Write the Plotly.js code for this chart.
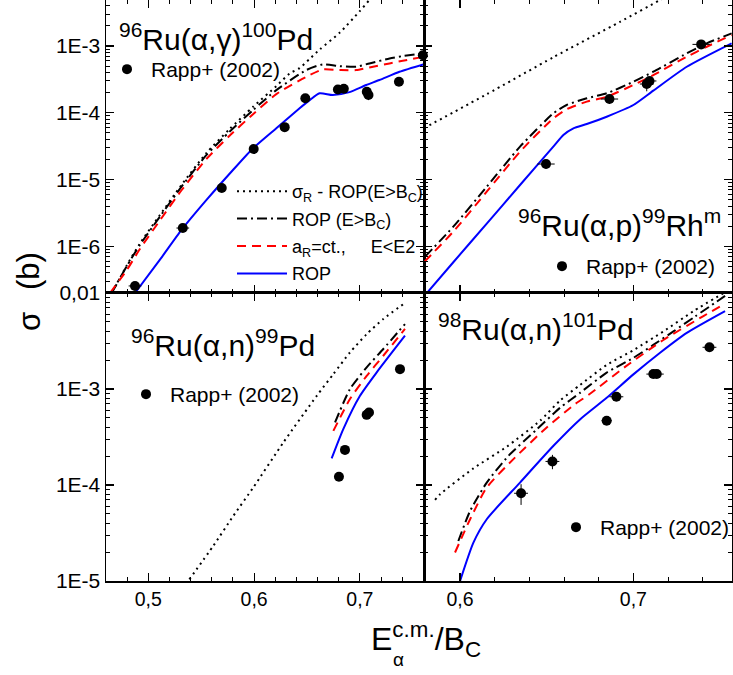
<!DOCTYPE html>
<html>
<head>
<meta charset="utf-8">
<script src="https://cdn.plot.ly/plotly-3.0.1.min.js"></script>
<style>html,body{margin:0;padding:0;background:#fff}#chart{width:733px;height:675px}</style>
</head>
<body>
<div id="chart"></div>
<script>
// ---------- Panel TL: 96Ru(a,g)100Pd ----------
const tlDotX = [0.4654, 0.4795, 0.492, 0.511, 0.5314, 0.555, 0.577, 0.599, 0.621, 0.6336, 0.643, 0.652, 0.662, 0.6808, 0.6997, 0.709, 0.72];
const tlDotY = [2.0e-7, 5.13e-7, 1.10e-6, 2.95e-6, 8.32e-6, 2.51e-5, 5.75e-5, 1.23e-4, 2.51e-4, 3.89e-4, 4.68e-4, 6.31e-4, 8.91e-4, 1.58e-3, 3.31e-3, 4.90e-3, 7.41e-3];
const tlDashDotX = [0.4654, 0.4795, 0.492, 0.511, 0.5314, 0.555, 0.577, 0.599, 0.621, 0.6494, 0.665, 0.6808, 0.6965, 0.709, 0.728, 0.7405, 0.7606];
const tlDashDotY = [2.0e-7, 5.0e-7, 1.05e-6, 2.79e-6, 7.83e-6, 2.34e-5, 5.25e-5, 1.10e-4, 2.19e-4, 4.38e-4, 5.32e-4, 5.01e-4, 4.90e-4, 5.50e-4, 6.53e-4, 7.08e-4, 7.76e-4];
const tlDashX = [0.4638, 0.4795, 0.492, 0.511, 0.5314, 0.555, 0.577, 0.599, 0.621, 0.6494, 0.665, 0.6808, 0.6965, 0.709, 0.728, 0.7405, 0.7606];
const tlDashY = [2.0e-7, 4.37e-7, 9.12e-7, 2.45e-6, 6.92e-6, 2.04e-5, 4.57e-5, 9.55e-5, 1.91e-4, 3.47e-4, 4.47e-4, 4.37e-4, 4.37e-4, 4.79e-4, 5.50e-4, 6.03e-4, 6.92e-4];
const tlSolidX = [0.4874, 0.511, 0.5314, 0.555, 0.580, 0.599, 0.621, 0.643, 0.6525, 0.6619, 0.6744, 0.6902, 0.706, 0.7185, 0.7374, 0.7606];
const tlSolidY = [2.0e-7, 6.31e-7, 1.76e-6, 4.95e-6, 1.39e-5, 2.95e-5, 5.89e-5, 1.17e-4, 1.55e-4, 1.96e-4, 1.85e-4, 2.04e-4, 2.61e-4, 3.10e-4, 4.13e-4, 5.37e-4];
const tlExpX = [0.4874, 0.5326, 0.5694, 0.5996, 0.6289, 0.6484, 0.6792, 0.6848, 0.7065, 0.7081, 0.7369, 0.7595];
const tlExpY = [2.55e-7, 1.88e-6, 7.5e-6, 2.87e-5, 6.1e-5, 1.65e-4, 2.24e-4, 2.30e-4, 2.07e-4, 1.85e-4, 2.92e-4, 7.3e-4];
const tlExpErrX = [0.006, 0.006, 0.003, 0.003, 0.003, 0.003, 0.003, 0.003, 0.003, 0.003, 0.003, 0.003];
const tlExpErrY = [3e-8, 2e-7, 6e-7, 2e-6, 5e-6, 1.2e-5, 1.5e-5, 1.5e-5, 2e-5, 3e-5, 2e-5, 5e-5];

// ---------- Panel TR: 96Ru(a,p)99Rh^m ----------
const trDotX = [0.5792, 0.6154, 0.6538, 0.6923, 0.7154, 0.73];
const trDotY = [5.9e-5, 1.90e-4, 6.80e-4, 2.31e-3, 4.90e-3, 7.94e-3];
const trDashDotX = [0.5798, 0.5961, 0.6154, 0.6346, 0.6538, 0.6615, 0.6731, 0.6846, 0.7, 0.7115, 0.7308, 0.7423, 0.7567];
const trDashDotY = [7.01e-7, 1.97e-6, 7.83e-6, 3.11e-5, 9.82e-5, 1.31e-4, 1.65e-4, 1.96e-4, 2.92e-4, 4.13e-4, 7.78e-4, 1.10e-3, 1.55e-3];
const trDashX = [0.5795, 0.5961, 0.6154, 0.6346, 0.6538, 0.6615, 0.6731, 0.6846, 0.7, 0.7115, 0.7308, 0.7423, 0.7567];
const trDashY = [5.90e-7, 1.66e-6, 6.59e-6, 2.62e-5, 8.26e-5, 1.13e-4, 1.47e-4, 1.74e-4, 2.61e-4, 3.68e-4, 6.92e-4, 9.77e-4, 1.46e-3];
const trSolidX = [0.5808, 0.5961, 0.6154, 0.6346, 0.6538, 0.6596, 0.6654, 0.6731, 0.6846, 0.7, 0.7115, 0.7308, 0.7567];
const trSolidY = [1.99e-7, 5.78e-7, 2.19e-6, 8.30e-6, 3.11e-5, 4.66e-5, 5.86e-5, 6.79e-5, 8.75e-5, 1.31e-4, 2.15e-4, 4.90e-4, 1.10e-3];
const trExpX = [0.6496, 0.6862, 0.7077, 0.7093, 0.7391];
const trExpY = [1.71e-5, 1.61e-4, 2.7e-4, 3.0e-4, 1.06e-3];
const trExpErrX = [0.005, 0.005, 0.004, 0.004, 0.005];
const trExpErrY = [2.5e-6, 2.5e-5, 6e-5, 4e-5, 1e-4];

// ---------- Panel BL: 96Ru(a,n)99Pd ----------
const blDotX = [0.5388, 0.5614, 0.5803, 0.5992, 0.6276, 0.6592, 0.6749, 0.6906, 0.7064, 0.7221, 0.7426];
const blDotY = [1.04e-5, 2.32e-5, 4.76e-5, 9.42e-5, 2.77e-4, 8.49e-4, 1.43e-3, 2.40e-3, 3.73e-3, 5.36e-3, 7.87e-3];
const blDashDotX = [0.6765, 0.6906, 0.7064, 0.7221, 0.7426];
const blDashDotY = [4.48e-4, 9.98e-4, 1.68e-3, 2.61e-3, 4.75e-3];
const blDashX = [0.6749, 0.6906, 0.7064, 0.7221, 0.7426];
const blDashY = [3.66e-4, 7.85e-4, 1.37e-3, 2.22e-3, 4.22e-3];
const blSolidX = [0.6733, 0.6843, 0.7001, 0.7159, 0.7426];
const blSolidY = [1.89e-4, 3.82e-4, 8.49e-4, 1.49e-3, 3.59e-3];
const blExpX = [0.6802, 0.6859, 0.7064, 0.7086, 0.7379];
const blExpY = [1.22e-4, 2.32e-4, 5.38e-4, 5.7e-4, 1.61e-3];

// ---------- Panel BR: 98Ru(a,n)101Pd ----------
const brDotX = [0.5856, 0.5885, 0.6077, 0.627, 0.6462, 0.6577, 0.6692, 0.6846, 0.7, 0.7173, 0.7346, 0.7529];
const brDotY = [7.0e-5, 8.02e-5, 1.49e-4, 2.51e-4, 4.68e-4, 7.59e-4, 1.10e-3, 1.78e-3, 2.54e-3, 3.98e-3, 6.46e-3, 1.02e-2];
const brDashDotX = [0.599, 0.6058, 0.6154, 0.6279, 0.6443, 0.6577, 0.6692, 0.6846, 0.7, 0.7115, 0.7231, 0.7356, 0.7481, 0.7529];
const brDashDotY = [2.61e-5, 5.37e-5, 1.06e-4, 2.01e-4, 3.80e-4, 6.37e-4, 9.12e-4, 1.48e-3, 2.11e-3, 2.88e-3, 3.98e-3, 5.69e-3, 8.13e-3, 9.33e-3];
const brDashX = [0.5971, 0.6058, 0.6154, 0.6308, 0.65, 0.6654, 0.675, 0.6952, 0.7173, 0.7404, 0.7529];
const brDashY = [1.98e-5, 4.40e-5, 9.42e-5, 1.86e-4, 3.98e-4, 6.76e-4, 8.91e-4, 1.70e-3, 3.24e-3, 5.75e-3, 7.76e-3];
const brSolidX = [0.6, 0.6077, 0.6154, 0.6346, 0.6539, 0.6692, 0.6846, 0.7, 0.7154, 0.7308, 0.7529];
const brSolidY = [1.0e-5, 2.51e-5, 4.40e-5, 1.06e-4, 2.56e-4, 4.82e-4, 8.09e-4, 1.42e-3, 2.39e-3, 3.85e-3, 6.49e-3];
const brExpX = [0.6352, 0.6533, 0.6846, 0.6902, 0.7115, 0.7135, 0.7439];
const brExpY = [8.2e-5, 1.76e-4, 4.67e-4, 8.3e-4, 1.43e-3, 1.43e-3, 2.72e-3];
const brExpErrX = [0.004, 0.004, 0.003, 0.004, 0.004, 0.004, 0.004];
const brExpErrY = [2.0e-5, 3e-5, 3e-5, 7e-5, 1e-4, 1e-4, 1.5e-4];

// ---------- Labels ----------
const seriesNames = ['σ<sub>R</sub> - ROP(E&gt;B<sub>C</sub>)', 'ROP (E&gt;B<sub>C</sub>)', 'a<sub>R</sub>=ct.,     E&lt;E2', 'ROP'];
const expName = 'Rapp+ (2002)';
const panelTitles = ['<sup>96</sup>Ru(α,γ)<sup>100</sup>Pd', '<sup>96</sup>Ru(α,p)<sup>99</sup>Rh<sup>m</sup>', '<sup>96</sup>Ru(α,n)<sup>99</sup>Pd', '<sup>98</sup>Ru(α,n)<sup>101</sup>Pd'];
const topYTickVals = [1e-6, 1e-5, 1e-4, 1e-3];
const topYTickText = ['1E-6', '1E-5', '1E-4', '1E-3'];
const botYTickVals = [1e-5, 1e-4, 1e-3, 1e-2];
const botYTickText = ['1E-5', '1E-4', '1E-3', '0,01'];
const leftXTickVals = [0.5, 0.6, 0.7];
const leftXTickText = ['0,5', '0,6', '0,7'];
const rightXTickVals = [0.6, 0.7];
const rightXTickText = ['0,6', '0,7'];

// ---------- styles ----------
const styles = [
  {color: '#000000', width: 2, dash: '2px,4px'},
  {color: '#000000', width: 2, dash: '10px,4px,2px,4px'},
  {color: '#ff0000', width: 2, dash: '9px,6px'},
  {color: '#0000ff', width: 2, dash: 'solid'}
];
const FONT = 'Liberation Sans, Arial, Helvetica, sans-serif';

function curves(xs, ys, xa, ya, show) {
  return xs.map((x, i) => ({
    x: x, y: ys[i], xaxis: xa, yaxis: ya, type: 'scatter', mode: 'lines',
    line: Object.assign({shape: 'spline', smoothing: 0.6}, styles[i]),
    name: seriesNames[i], showlegend: show, legend: 'legend', legendgroup: 'g' + i, hoverinfo: 'skip'
  }));
}
function exp(x, y, ex, ey, xa, ya, lg) {
  const t = {x: x, y: y, xaxis: xa, yaxis: ya, type: 'scatter', mode: 'markers',
    marker: {color: '#000', size: 10, symbol: 'circle'}, name: expName, legend: lg, showlegend: true,
    cliponaxis: false};
  if (ex) t.error_x = {type: 'data', array: ex, visible: true, color: '#000', thickness: 1, width: 0};
  if (ey) t.error_y = {type: 'data', array: ey, visible: true, color: '#000', thickness: 1, width: 0};
  return t;
}

const data = [].concat(
  curves([tlDotX, tlDashDotX, tlDashX, tlSolidX], [tlDotY, tlDashDotY, tlDashY, tlSolidY], 'x', 'y', true),
  curves([trDotX, trDashDotX, trDashX, trSolidX], [trDotY, trDashDotY, trDashY, trSolidY], 'x2', 'y2', false),
  curves([blDotX, blDashDotX, blDashX, blSolidX], [blDotY, blDashDotY, blDashY, blSolidY], 'x3', 'y3', false),
  curves([brDotX, brDashDotX, brDashX, brSolidX], [brDotY, brDashDotY, brDashY, brSolidY], 'x4', 'y4', false),
  [exp(tlExpX, tlExpY, tlExpErrX, tlExpErrY, 'x', 'y', 'legend2'),
   exp(trExpX, trExpY, trExpErrX, trExpErrY, 'x2', 'y2', 'legend3'),
   exp(blExpX, blExpY, null, null, 'x3', 'y3', 'legend4'),
   exp(brExpX, brExpY, brExpErrX, brExpErrY, 'x4', 'y4', 'legend5')]
);

function logMinor(lo, hi) {
  const v = [];
  for (let e = lo; e <= hi; e++) for (let m = 2; m <= 9; m++) v.push(m * Math.pow(10, e));
  return v;
}
const XSPLIT = 0.508, YSPLIT = 0.4957;
const common = {
  showline: true, linecolor: '#000', linewidth: 1.5, mirror: 'allticks',
  ticks: 'inside', ticklen: 8, tickwidth: 1.2, tickcolor: '#000',
  showgrid: false, zeroline: false, automargin: false
};
function xax(dom, range, vals, text, show, anchor) {
  return Object.assign({}, common, {domain: dom, range: range, anchor: anchor,
    tickfont: {size: 19.5, family: FONT, color: '#000'},
    tickmode: 'array', tickvals: vals, ticktext: text, showticklabels: show,
    minor: {tickmode: 'linear', tick0: 0, dtick: 0.02, ticks: 'inside', ticklen: 4, tickcolor: '#000', tickwidth: 1}});
}
function yax(dom, range, vals, text, show, anchor, lo, hi) {
  return Object.assign({}, common, {domain: dom, type: 'log', range: range, anchor: anchor,
    tickfont: {size: 21, family: FONT, color: '#000'},
    tickmode: 'array', tickvals: vals, ticktext: text, showticklabels: show,
    minor: {tickmode: 'array', tickvals: logMinor(lo, hi), ticks: 'inside', ticklen: 4, tickcolor: '#000', tickwidth: 1}});
}

const px = v => (v - 106) / 626;
const py = v => (581 - v) / 581;
const legBase = {bgcolor: 'rgba(0,0,0,0)', borderwidth: 0, xanchor: 'left', yanchor: 'top',
  itemwidth: 38, font: {size: 21, family: FONT, color: '#000'}};

const layout = {
  width: 733, height: 675,
  margin: {l: 106, r: 1, t: 0, b: 94, autoexpand: false},
  paper_bgcolor: '#fff', plot_bgcolor: '#fff',
  font: {family: FONT, color: '#000'},
  xaxis: xax([0, XSPLIT], [0.46, 0.7606], leftXTickVals, leftXTickText, false, 'y'),
  yaxis: yax([YSPLIT, 1], [Math.log10(2e-7), Math.log10(4.9e-3)], topYTickVals, topYTickText, true, 'x', -7, -3),
  xaxis2: xax([XSPLIT, 1], [0.5792, 0.7569], rightXTickVals, rightXTickText, false, 'y2'),
  yaxis2: yax([YSPLIT, 1], [Math.log10(2e-7), Math.log10(4.9e-3)], topYTickVals, topYTickText, false, 'x2', -7, -3),
  xaxis3: xax([0, XSPLIT], [0.46, 0.7606], leftXTickVals, leftXTickText, true, 'y3'),
  yaxis3: yax([0, YSPLIT], [-5, -2], botYTickVals, botYTickText, true, 'x3', -5, -3),
  xaxis4: xax([XSPLIT, 1], [0.5792, 0.7569], rightXTickVals, rightXTickText, true, 'y4'),
  yaxis4: yax([0, YSPLIT], [-5, -2], botYTickVals, botYTickText, false, 'x4', -5, -3),
  legend: Object.assign({}, legBase, {x: px(232), y: py(173), itemwidth: 50, font: {size: 18, family: FONT, color: '#000'},
    traceorder: 'grouped', tracegroupgap: 1}),
  legend2: Object.assign({}, legBase, {x: px(103), y: py(49)}),
  legend3: Object.assign({}, legBase, {x: px(538), y: py(246)}),
  legend4: Object.assign({}, legBase, {x: px(122), y: py(374)}),
  legend5: Object.assign({}, legBase, {x: px(552), y: py(507)}),
  annotations: [
    {text: panelTitles[0], x: px(117), y: py(37), xref: 'paper', yref: 'paper', xanchor: 'left', yanchor: 'middle', showarrow: false, font: {size: 30, family: FONT}},
    {text: panelTitles[1], x: px(516), y: py(223), xref: 'paper', yref: 'paper', xanchor: 'left', yanchor: 'middle', showarrow: false, font: {size: 30, family: FONT}},
    {text: panelTitles[2], x: px(129), y: py(343), xref: 'paper', yref: 'paper', xanchor: 'left', yanchor: 'middle', showarrow: false, font: {size: 30, family: FONT}},
    {text: panelTitles[3], x: px(436), y: py(327), xref: 'paper', yref: 'paper', xanchor: 'left', yanchor: 'middle', showarrow: false, font: {size: 30, family: FONT}},
    {text: 'σ', x: px(29), y: py(322), xref: 'paper', yref: 'paper', xanchor: 'center', yanchor: 'middle', textangle: -90, showarrow: false, font: {size: 31, family: FONT}},
    {text: '(b)', x: px(28), y: py(271), xref: 'paper', yref: 'paper', xanchor: 'center', yanchor: 'middle', textangle: -90, showarrow: false, font: {size: 31, family: FONT}},
    {text: 'E<sup>c.m.</sup>/B<sub>C</sub>', x: px(369), y: py(640), xref: 'paper', yref: 'paper', xanchor: 'left', yanchor: 'middle', showarrow: false, font: {size: 32, family: FONT}},
    {text: 'α', x: px(398), y: py(659), xref: 'paper', yref: 'paper', xanchor: 'center', yanchor: 'middle', showarrow: false, font: {size: 19, family: FONT}}
  ]
};

Plotly.newPlot('chart', data, layout, {displayModeBar: false, staticPlot: true});
</script>
</body>
</html>
